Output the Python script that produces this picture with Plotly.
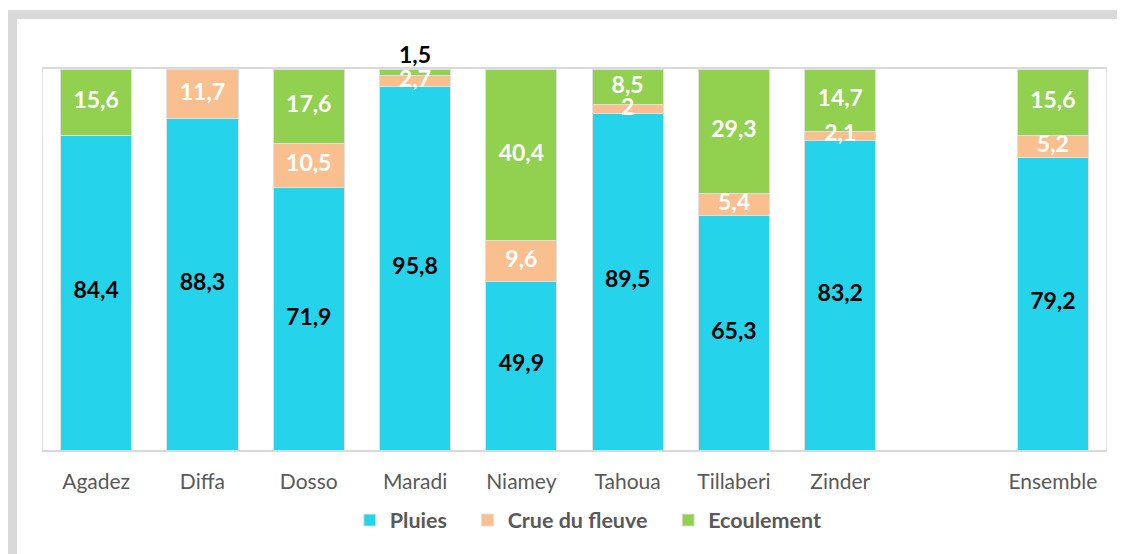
import plotly.graph_objects as go

categories = ["Agadez", "Diffa", "Dosso", "Maradi", "Niamey", "Tahoua", "Tillaberi", "Zinder", " ", "Ensemble"]
pluies = [84.4, 88.3, 71.9, 95.8, 49.9, 89.5, 65.3, 83.2, None, 79.2]
crue = [None, 11.7, 10.5, 2.7, 9.6, 2.0, 5.4, 2.1, None, 5.2]
ecoulement = [15.6, None, 17.6, 1.5, 40.4, 8.5, 29.3, 14.7, None, 15.6]
series_names = ["Pluies", "Crue du fleuve", "Ecoulement"]

FONT = "Lato"
C_PL = "#25D4EB"
C_CR = "#F9BF8F"
C_EC = "#92D050"
Y_MIN, Y_MAX = 10, 100

def lab(v):
    return "" if v is None else (f"{v:g}").replace(".", ",")

def z(v):
    return 0 if v is None else v

W, H = 1117, 546
L, R, T, B = 35, 19, 61, 104

NB = "\u00a0"
fig = go.Figure()
for i, (name, vals, col) in enumerate(zip(series_names, [pluies, crue, ecoulement], [C_PL, C_CR, C_EC])):
    disp = name + (NB * 3 if i < 2 else "")
    fig.add_trace(go.Bar(name=disp, x=categories, y=vals, marker_color=col,
                         marker_line=dict(color="#E0E0E0", width=1), width=0.67))

# data labels drawn on top of all bars (centered on visible part of each segment)
lab_font = dict(family=FONT, size=23, weight="bold")
pl_y = [None if p is None else (max(Y_MIN, 0) + p) / 2 for p in pluies]
cr_y = [None if c is None else z(p) + c / 2 for p, c in zip(pluies, crue)]
ec_y, ec_pos, ec_col = [], [], []
for p, c, e in zip(pluies, crue, ecoulement):
    if e is None:
        ec_y.append(None); ec_pos.append("middle center"); ec_col.append("#FFFFFF")
    elif e < 3:
        ec_y.append(z(p) + z(c) + e); ec_pos.append("top center"); ec_col.append("#000000")
    else:
        ec_y.append(z(p) + z(c) + e / 2); ec_pos.append("middle center"); ec_col.append("#FFFFFF")

fig.add_trace(go.Scatter(x=categories, y=pl_y, mode="text", text=[lab(v) for v in pluies],
                         textposition="middle center", textfont=dict(color="#000000", **lab_font),
                         showlegend=False, hoverinfo="skip", cliponaxis=False))
fig.add_trace(go.Scatter(x=categories, y=cr_y, mode="text", text=[lab(v) for v in crue],
                         textposition="middle center", textfont=dict(color="#FFFFFF", **lab_font),
                         showlegend=False, hoverinfo="skip", cliponaxis=False))
fig.add_trace(go.Scatter(x=categories, y=ec_y, mode="text", text=[lab(v) for v in ecoulement],
                         textposition=ec_pos, textfont=dict(color=ec_col, **lab_font),
                         showlegend=False, hoverinfo="skip", cliponaxis=False))

pw, ph = W - L - R, H - T - B
fig.update_layout(
    barmode="stack",
    width=W, height=H,
    margin=dict(l=L, r=R, t=T, b=B),
    paper_bgcolor="white", plot_bgcolor="white",
    separators=", ",
    font=dict(family=FONT, color="#595959"),
    showlegend=True,
    legend=dict(orientation="h", x=0.513, xanchor="center", y=-0.184, yanchor="middle",
                font=dict(family=FONT, size=21.5, color="#595959", weight="bold"),
                itemwidth=30, traceorder="normal"),
    xaxis=dict(type="category", showline=True, linecolor="#D9D9D9", linewidth=1.5, mirror=True,
               showgrid=False, ticks="", tickfont=dict(family=FONT, size=21, color="#595959"),
               ticklabelstandoff=12),
    yaxis=dict(range=[Y_MIN, Y_MAX], showline=True, linecolor="#E3E3E3", mirror=True,
               showgrid=False, showticklabels=False, ticks="", zeroline=False),
    shapes=[dict(type="rect", xref="paper", yref="paper",
                 x0=(4.5 - L) / pw, x1=1.2, y0=-1.0, y1=1 + (T - 6.5) / ph,
                 line=dict(color="#D9D9D9", width=9), fillcolor="rgba(0,0,0,0)", layer="below")],
)

fig.write_html("out.html")
